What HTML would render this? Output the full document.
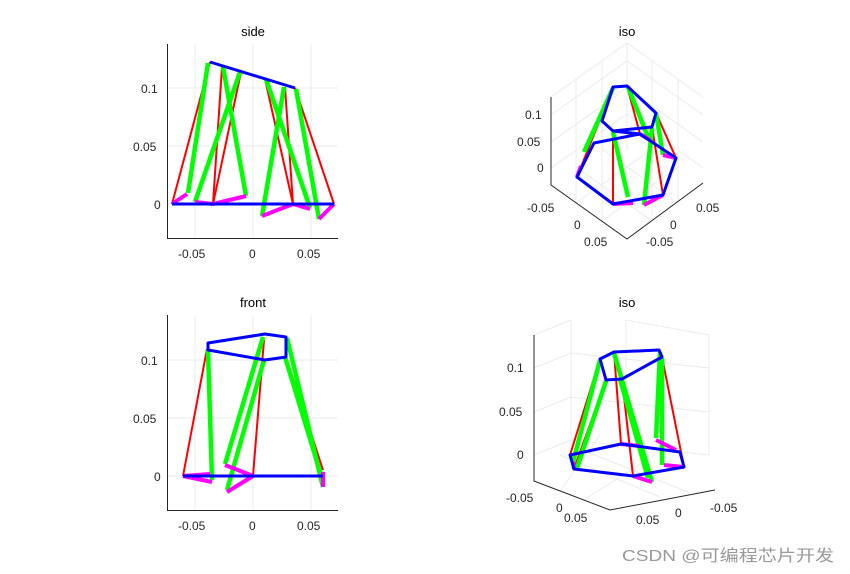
<!DOCTYPE html>
<html><head><meta charset="utf-8"><style>
body{margin:0;background:#fff;}
svg{display:block;font-family:"Liberation Sans","Noto Sans CJK SC",sans-serif;}
.t{font-size:13px;fill:#000;text-anchor:middle}
.k{font-size:12px;fill:#262626}
.g{stroke:#ebebeb;stroke-width:1;fill:none}
.ax{stroke:#262626;stroke-width:1;fill:none}
.b{stroke:#0000ff;stroke-width:3;fill:none;stroke-linejoin:round}
.r{stroke:#ff0000;stroke-width:2}
.gr{stroke:#00ff00;stroke-width:4.5}
.m{stroke:#ff00ff;stroke-width:4}
</style></head><body>
<svg width="850" height="574" viewBox="0 0 850 574">
<!-- SIDE -->
<text class="t" x="253" y="36">side</text>
<g class="g"><line x1="167" y1="88" x2="338" y2="88"/><line x1="167" y1="146" x2="338" y2="146"/><line x1="167" y1="204" x2="338" y2="204"/>
<line x1="195" y1="44" x2="195" y2="238"/><line x1="253" y1="44" x2="253" y2="238"/><line x1="311" y1="44" x2="311" y2="238"/></g>
<path class="ax" d="M167.5 44V238.5H338"/>
<g class="k"><text x="141" y="93">0.1</text><text x="133" y="151">0.05</text><text x="154" y="209">0</text>
<text x="178" y="258">-0.05</text><text x="249" y="258">0</text><text x="297" y="258">0.05</text></g>
<g class="r"><line x1="172" y1="204" x2="210" y2="62"/><line x1="213" y1="204" x2="222" y2="67"/><line x1="213" y1="204" x2="241" y2="72"/><line x1="293" y1="204" x2="265" y2="79"/><line x1="293" y1="204" x2="285" y2="87"/><line x1="334" y1="204" x2="295" y2="88"/></g>
<g class="gr"><line x1="188" y1="193" x2="208" y2="63"/><line x1="195" y1="202" x2="240" y2="72"/><line x1="246" y1="196" x2="223" y2="67"/><line x1="262" y1="216" x2="284" y2="87"/><line x1="310" y1="208" x2="266" y2="79"/><line x1="319" y1="219" x2="296" y2="89"/></g>
<g class="m"><line x1="172" y1="204" x2="187" y2="194"/><line x1="195" y1="202" x2="213" y2="204"/><line x1="213" y1="204" x2="246" y2="196"/><line x1="262" y1="216" x2="293" y2="204"/><line x1="293" y1="204" x2="310" y2="209"/><line x1="319" y1="219" x2="334" y2="204"/></g>
<line class="b" x1="172" y1="204" x2="334" y2="204"/><line class="b" x1="210" y1="62" x2="295" y2="88"/>

<!-- FRONT -->
<text class="t" x="253" y="307">front</text>
<g class="g"><line x1="167" y1="360" x2="338" y2="360"/><line x1="167" y1="418" x2="338" y2="418"/><line x1="167" y1="476" x2="338" y2="476"/>
<line x1="195" y1="315" x2="195" y2="510"/><line x1="253" y1="315" x2="253" y2="510"/><line x1="311" y1="315" x2="311" y2="510"/></g>
<path class="ax" d="M167.5 315V510.5H338"/>
<g class="k"><text x="141" y="365">0.1</text><text x="133" y="423">0.05</text><text x="154" y="481">0</text>
<text x="178" y="530">-0.05</text><text x="249" y="530">0</text><text x="297" y="530">0.05</text></g>
<g class="r"><line x1="183" y1="476" x2="207" y2="349"/><line x1="253" y1="476" x2="264" y2="340"/><line x1="323" y1="470" x2="286" y2="357"/></g>
<g class="gr"><line x1="212" y1="480" x2="208" y2="350"/><line x1="225" y1="464" x2="263" y2="337"/><line x1="227" y1="490" x2="264" y2="360"/><line x1="323" y1="487" x2="287" y2="338"/><line x1="322" y1="478" x2="285" y2="357"/></g>
<g class="m"><line x1="183" y1="476" x2="210" y2="474"/><line x1="183" y1="476" x2="212" y2="482"/><line x1="225" y1="465" x2="253" y2="476"/><line x1="227" y1="492" x2="253" y2="476"/><line x1="323" y1="472" x2="323" y2="487"/></g>
<line class="b" x1="183" y1="476" x2="323" y2="476"/>
<polygon class="b" points="208,343 265,334 286,337 286,357 265,360 208,350"/>

<!-- ISO TOP -->
<text class="t" x="627" y="36">iso</text>
<g class="g"><line x1="551" y1="97" x2="627" y2="43"/><line x1="627" y1="43" x2="703" y2="97"/><line x1="627" y1="43" x2="627" y2="150"/>
<line x1="551" y1="115" x2="627" y2="61"/><line x1="627" y1="61" x2="703" y2="115"/><line x1="551" y1="142" x2="627" y2="88"/><line x1="627" y1="88" x2="703" y2="142"/><line x1="551" y1="168" x2="627" y2="114"/><line x1="627" y1="114" x2="703" y2="168"/>
<line x1="576" y1="203" x2="652" y2="149"/><line x1="602" y1="221" x2="678" y2="167"/><line x1="652" y1="221" x2="576" y2="167"/><line x1="678" y1="203" x2="602" y2="149"/>
<line x1="576" y1="203" x2="576" y2="79"/><line x1="602" y1="221" x2="602" y2="61"/><line x1="652" y1="221" x2="652" y2="61"/><line x1="678" y1="203" x2="678" y2="79"/></g>
<path class="ax" d="M551 97V185L627 239L703 183"/>
<g class="k"><text x="525" y="119">0.1</text><text x="517" y="146">0.05</text><text x="537" y="172">0</text>
<text x="527" y="212">-0.05</text><text x="574" y="229">0</text><text x="584" y="246">0.05</text>
<text x="696" y="212">0.05</text><text x="670" y="229">0</text><text x="646" y="246">-0.05</text></g>
<g class="r"><line x1="577" y1="177" x2="613" y2="87"/><line x1="613" y1="204" x2="613" y2="132"/><line x1="663" y1="195" x2="652" y2="127"/><line x1="676" y1="158" x2="656" y2="113"/><line x1="640" y1="134" x2="627" y2="86"/></g>
<g class="gr"><line x1="584" y1="152" x2="613" y2="88"/><line x1="628" y1="197" x2="613" y2="132"/><line x1="644" y1="205" x2="652" y2="128"/><line x1="663" y1="155" x2="656" y2="113"/><line x1="648" y1="137" x2="628" y2="87"/></g>
<g class="m"><line x1="577" y1="177" x2="581" y2="166"/><line x1="613" y1="204" x2="633" y2="203"/><line x1="644" y1="205" x2="663" y2="195"/><line x1="663" y1="155" x2="676" y2="158"/><line x1="640" y1="134" x2="650" y2="140"/></g>
<polygon class="b" points="577,177 613,204 663,195 676,158 640,134 594,143"/>
<polygon class="b" points="613,87 627,86 656,113 652,127 613,131 602,121"/>
<line class="b" x1="613" y1="131" x2="640" y2="134"/>

<!-- ISO BOTTOM -->
<text class="t" x="627" y="307">iso</text>
<g class="g"><line x1="534" y1="335" x2="571" y2="320"/><line x1="571" y1="320" x2="571" y2="446"/><line x1="626" y1="320" x2="626" y2="435"/><line x1="709" y1="335" x2="709" y2="455"/><line x1="626" y1="320" x2="709" y2="335"/>
<line x1="534" y1="368" x2="571" y2="353"/><line x1="571" y1="353" x2="709" y2="368"/><line x1="534" y1="412" x2="571" y2="397"/><line x1="571" y1="397" x2="709" y2="412"/><line x1="534" y1="455" x2="571" y2="440"/><line x1="571" y1="440" x2="709" y2="455"/>
<line x1="560" y1="491" x2="600" y2="435"/><line x1="584" y1="500" x2="665" y2="448"/><line x1="660" y1="497" x2="560" y2="455"/><line x1="690" y1="493" x2="570" y2="445"/></g>
<path class="ax" d="M534 335V481L610 510L715 490"/>
<g class="k"><text x="507" y="372">0.1</text><text x="499" y="416">0.05</text><text x="517" y="459">0</text>
<text x="506" y="502">-0.05</text><text x="556" y="512">0</text><text x="564" y="522">0.05</text>
<text x="710" y="512">-0.05</text><text x="675" y="517">0</text><text x="636" y="524">0.05</text></g>
<g class="r"><line x1="570" y1="455" x2="600" y2="359"/><line x1="574" y1="469" x2="606" y2="380"/><line x1="621" y1="444" x2="614" y2="352"/><line x1="633" y1="476" x2="622" y2="379"/><line x1="684" y1="467" x2="662" y2="357"/></g>
<g class="gr"><line x1="573" y1="462" x2="600" y2="360"/><line x1="577" y1="468" x2="606" y2="381"/><line x1="652" y1="482" x2="614" y2="353"/><line x1="648" y1="478" x2="620" y2="379"/><line x1="656" y1="438" x2="660" y2="352"/><line x1="662" y1="465" x2="662" y2="358"/></g>
<g class="m"><line x1="574" y1="469" x2="573" y2="462"/><line x1="621" y1="444" x2="640" y2="446"/><line x1="633" y1="476" x2="652" y2="482"/><line x1="656" y1="440" x2="676" y2="450"/><line x1="684" y1="467" x2="664" y2="465"/></g>
<polygon class="b" points="570,455 621,444 680,452 684,467 633,476 574,469"/>
<polygon class="b" points="600,359 614,352 659,350 662,357 622,379 606,380"/>

<text x="622" y="561" textLength="212" lengthAdjust="spacingAndGlyphs" style="font-size:16px;fill:#999">CSDN @可编程芯片开发</text>
</svg>
</body></html>
